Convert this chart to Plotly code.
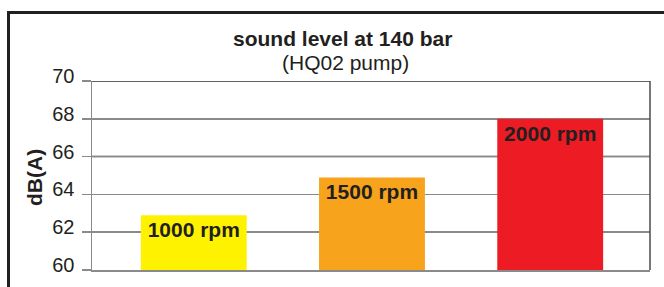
import plotly.graph_objects as go

categories = ["1000 rpm", "1500 rpm", "2000 rpm"]
positions = [0, 1, 2]
sound_db = [62.9, 64.9, 68.0]
bar_colors = ["#fff200", "#f7a31c", "#ed1c24"]
y_ticks = [60, 62, 64, 66, 68, 70]
dark_grid = [66, 68, 70]

title_text = "sound level at 140 bar"
subtitle_text = "(HQ02 pump)"
y_title = "dB(A)"

W, H = 664, 287
L, T = 92, 81
R = W - 650
B = H - 270
pw = W - L - R
ph = H - T - B

def px_x(px):
    return (px - L) / pw

def px_y(py):
    return (H - B - py) / ph

FONT = "Liberation Sans, Arial, sans-serif"
INK = "#231f20"

fig = go.Figure()
fig.add_trace(go.Bar(
    x=positions,
    y=[v - 60 for v in sound_db],
    base=60,
    width=0.594,
    marker=dict(color=bar_colors, line=dict(width=0)),
    text=categories,
    textposition="inside",
    insidetextanchor="end",
    textangle=0,
    textfont=dict(family=FONT, size=21, color=INK, weight="bold"),
    cliponaxis=False,
    hoverinfo="skip",
))

shapes = []
for g in dark_grid:
    shapes.append(dict(type="line", xref="paper", yref="y", x0=0, x1=1, y0=g, y1=g,
                       line=dict(color="#2e2b2c", width=1.5), layer="below"))
shapes.append(dict(type="line", xref="paper", yref="paper", x0=1, x1=1, y0=0, y1=1,
                   line=dict(color="#4a4a4a", width=1.5), layer="above"))
shapes.append(dict(type="line", xref="paper", yref="paper",
                   x0=px_x(8.5), x1=px_x(8.5), y0=px_y(11), y1=px_y(320),
                   line=dict(color=INK, width=3)))
shapes.append(dict(type="line", xref="paper", yref="paper",
                   x0=px_x(7), x1=px_x(720), y0=px_y(12.5), y1=px_y(12.5),
                   line=dict(color=INK, width=3)))

annotations = [
    dict(text=title_text, xref="paper", yref="paper", x=px_x(342), y=px_y(38),
         xanchor="center", yanchor="middle", showarrow=False,
         font=dict(family=FONT, size=21, color=INK, weight="bold")),
    dict(text=subtitle_text, xref="paper", yref="paper", x=px_x(345), y=px_y(62),
         xanchor="center", yanchor="middle", showarrow=False,
         font=dict(family=FONT, size=21, color=INK)),
    dict(text=y_title, xref="paper", yref="paper", x=px_x(34), y=px_y(178),
         xanchor="center", yanchor="middle", showarrow=False, textangle=-90,
         font=dict(family=FONT, size=21, color=INK, weight="bold")),
]

fig.update_layout(
    width=W, height=H,
    margin=dict(l=L, r=R, t=T, b=B, pad=0),
    paper_bgcolor="white", plot_bgcolor="white",
    showlegend=False,
    shapes=shapes,
    annotations=annotations,
    xaxis=dict(range=[-0.571, 2.56], showticklabels=False, ticks="",
               showgrid=False, zeroline=False, showline=True,
               linecolor="#8a8a8a", linewidth=1.5, fixedrange=True),
    yaxis=dict(range=[60, 70], tickvals=y_ticks, ticks="outside", ticklen=9,
               tickcolor="#8a8a8a", tickwidth=1.5,
               ticklabelshift=-5, ticklabelstandoff=3,
               tickfont=dict(family=FONT, size=20, color=INK),
               showgrid=True, gridcolor="#8a8a8a", gridwidth=1.5,
               zeroline=False, showline=True, linecolor="#8a8a8a", linewidth=1.5,
               fixedrange=True),
)

fig.write_html(
    "out.html",
    config={"displayModeBar": False, "staticPlot": True},
    post_script="document.body.style.margin='0';document.body.style.overflow='hidden';",
)
